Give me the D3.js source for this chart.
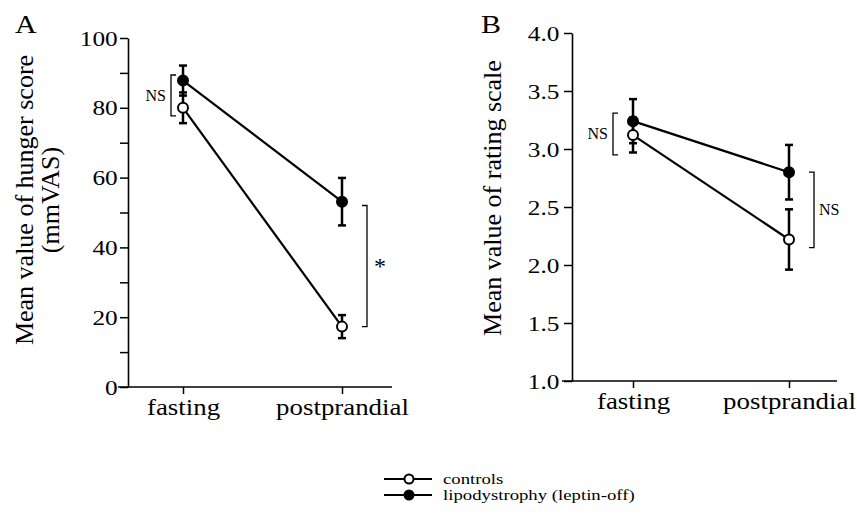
<!DOCTYPE html>
<html>
<head>
<meta charset="utf-8">
<script src="https://cdnjs.cloudflare.com/ajax/libs/d3/7.8.5/d3.min.js"></script>
<style>
  body { margin: 0; background: #fff; }
  text { font-family: "Liberation Serif", "Times New Roman", serif; fill: #000; }
</style>
</head>
<body>
<div class="center"></div>
<script>
// categories and series
const times = ["fasting", "postprandial"];
const groups = ["controls", "lipodystrophy (leptin-off)"];

// panel A - hunger score (mmVAS)
const hungerControls = [80.0, 17.3];
const hungerControlsErr = [4.4, 3.3];
const hungerLipo = [87.8, 53.1];
const hungerLipoErr = [4.3, 6.8];
const hungerTicks = [0, 20, 40, 60, 80, 100];
const hungerMinor = [10, 30, 50, 70, 90];

// panel B - rating scale
const ratingControls = [3.12, 2.22];
const ratingControlsErr = [0.15, 0.26];
const ratingLipo = [3.24, 2.80];
const ratingLipoErr = [0.19, 0.235];
const ratingTicks = [1.0, 1.5, 2.0, 2.5, 3.0, 3.5, 4.0];

// significance brackets: [time, low, high, label, side]
const hungerBrackets = [["fasting", 77.7, 89.4, "NS", -1], ["postprandial", 17.3, 52.0, "*", 1]];
const ratingBrackets = [["fasting", 2.95, 3.31, "NS", -1], ["postprandial", 2.15, 2.80, "NS", 1]];

const svg = d3.select(".center").append("svg")
  .attr("width", 857)
  .attr("height", 513);

svg.append("rect").attr("width", 857).attr("height", 513).attr("fill", "#fff");

function drawPanel(p) {
  const g = svg.append("g");
  const x = d3.scalePoint().domain(times).range(p.xRange);
  const y = d3.scaleLinear().domain(p.yDomain).range(p.yRange);

  // y axis
  const yAxis = g.append("g").attr("transform", `translate(${p.axisX},0)`)
    .call(d3.axisLeft(y).tickValues(p.ticks).tickFormat(p.fmt).tickSize(8).tickPadding(p.tickPad).tickSizeOuter(0));
  yAxis.select(".domain").attr("stroke-width", 1.6);
  yAxis.selectAll(".tick line").attr("stroke-width", 1.5);
  yAxis.selectAll(".tick text")
    .style("font-size", "22px").style("font-family", "Liberation Serif")
    .attr("transform", "scale(1.15,1)");
  if (p.minor) {
    g.append("g").attr("transform", `translate(${p.axisX},0)`)
      .call(d3.axisLeft(y).tickValues(p.minor).tickFormat("").tickSize(8).tickSizeOuter(0))
      .call(a => a.select(".domain").remove())
      .selectAll(".tick line").attr("stroke-width", 1.5);
  }

  // x axis
  const xa = g.append("g").attr("transform", `translate(0,${p.yRange[0]})`)
    .call(d3.axisBottom(x).tickSize(7).tickPadding(4).tickSizeOuter(0));
  xa.select(".domain").attr("d", `M${p.axisX - 10},0H${p.xEnd}`).attr("stroke-width", 1.6);
  xa.selectAll(".tick line").attr("stroke-width", 1.5);
  xa.selectAll(".tick text")
    .style("font-size", "24px").style("font-family", "Liberation Serif")
    .attr("transform", "scale(1.12,1)");

  // y label
  p.ylabel.forEach((t, i) => {
    g.append("text")
      .attr("transform", `translate(${p.labelX + i * 26},${p.labelY}) rotate(-90)`)
      .attr("text-anchor", "middle")
      .attr("dominant-baseline", "central")
      .style("font-size", "26px")
      .text(t);
  });

  // panel letter
  g.append("text").attr("transform", `translate(${p.letterX},33) scale(1.2,1)`)
    .style("font-size", "25px").text(p.letter);

  const series = [
    {vals: p.controls, err: p.controlsErr, fill: "#fff"},
    {vals: p.lipo, err: p.lipoErr, fill: "#000"}
  ];

  // error bars
  series.forEach(s => {
    times.forEach((t, i) => {
      const cx = x(t), lo = y(s.vals[i] - s.err[i]), hi = y(s.vals[i] + s.err[i]);
      g.append("line").attr("x1", cx).attr("x2", cx).attr("y1", lo).attr("y2", hi)
        .attr("stroke", "#000").attr("stroke-width", 2.5);
      [lo, hi].forEach(v => g.append("line").attr("x1", cx - 4).attr("x2", cx + 4)
        .attr("y1", v).attr("y2", v).attr("stroke", "#000").attr("stroke-width", 2.5));
    });
  });

  // lines
  const line = d3.line().x((d, i) => x(times[i])).y(d => y(d));
  series.forEach(s => {
    g.append("path").datum(s.vals).attr("d", line)
      .attr("fill", "none").attr("stroke", "#000").attr("stroke-width", 2.2);
  });

  // points
  series.forEach(s => {
    g.selectAll(null).data(s.vals).enter().append("circle")
      .attr("cx", (d, i) => x(times[i]))
      .attr("cy", d => y(d))
      .attr("r", 5)
      .attr("fill", s.fill)
      .attr("stroke", "#000")
      .attr("stroke-width", 2);
  });

  // brackets
  p.brackets.forEach(b => {
    const bx = x(b[0]) + b[4] * p.bracketOff[b[0]];
    const y1 = y(b[1]), y2 = y(b[2]);
    const stub = -b[4] * 5;
    g.append("path")
      .attr("d", `M${bx + stub},${y1}H${bx}V${y2}H${bx + stub}`)
      .attr("fill", "none").attr("stroke", "#000").attr("stroke-width", 1.3);
    const isStar = b[3] === "*";
    g.append("text")
      .attr("x", bx + b[4] * (isStar ? 7 : 5))
      .attr("y", (y1 + y2) / 2)
      .attr("text-anchor", b[4] < 0 ? "end" : "start")
      .attr("dominant-baseline", "central")
      .style("font-size", isStar ? "24px" : "16px")
      .text(b[3]);
  });
}

drawPanel({
  letter: "A", letterX: 15,
  axisX: 128, xEnd: 392, xRange: [183, 342], tickPad: 1,
  yDomain: [0, 100], yRange: [387, 38],
  ticks: hungerTicks, minor: hungerMinor, fmt: d3.format("d"),
  ylabel: ["Mean value of hunger score", "(mmVAS)"], labelX: 24, labelY: 200,
  controls: hungerControls, controlsErr: hungerControlsErr,
  lipo: hungerLipo, lipoErr: hungerLipoErr,
  brackets: hungerBrackets, bracketOff: {fasting: 12, postprandial: 25}
});

drawPanel({
  letter: "B", letterX: 481,
  axisX: 572, xEnd: 837, xRange: [633, 789], tickPad: 3,
  yDomain: [1, 4], yRange: [381, 33],
  ticks: ratingTicks, minor: null, fmt: d3.format(".1f"),
  ylabel: ["Mean value of rating scale"], labelX: 492, labelY: 198,
  controls: ratingControls, controlsErr: ratingControlsErr,
  lipo: ratingLipo, lipoErr: ratingLipoErr,
  brackets: ratingBrackets, bracketOff: {fasting: 20, postprandial: 25}
});

// legend
const legend = svg.append("g").attr("transform", "translate(384,479)");
const legendFills = ["#fff", "#000"];
const legendItems = legend.selectAll(".legend-item")
  .data(groups)
  .enter().append("g")
  .attr("class", "legend-item")
  .attr("transform", (d, i) => `translate(0,${i * 16})`);

legendItems.append("line").attr("x1", 0).attr("x2", 48).attr("y1", 0).attr("y2", 0)
  .attr("stroke", "#000").attr("stroke-width", 2);
legendItems.append("circle").attr("cx", 25).attr("cy", 0).attr("r", 4.5)
  .attr("fill", (d, i) => legendFills[i]).attr("stroke", "#000").attr("stroke-width", 2);
legendItems.append("text").attr("transform", "translate(59,0) scale(1.25,1)")
  .attr("dominant-baseline", "central")
  .style("font-size", "15px")
  .text(d => d);
</script>
</body>
</html>
